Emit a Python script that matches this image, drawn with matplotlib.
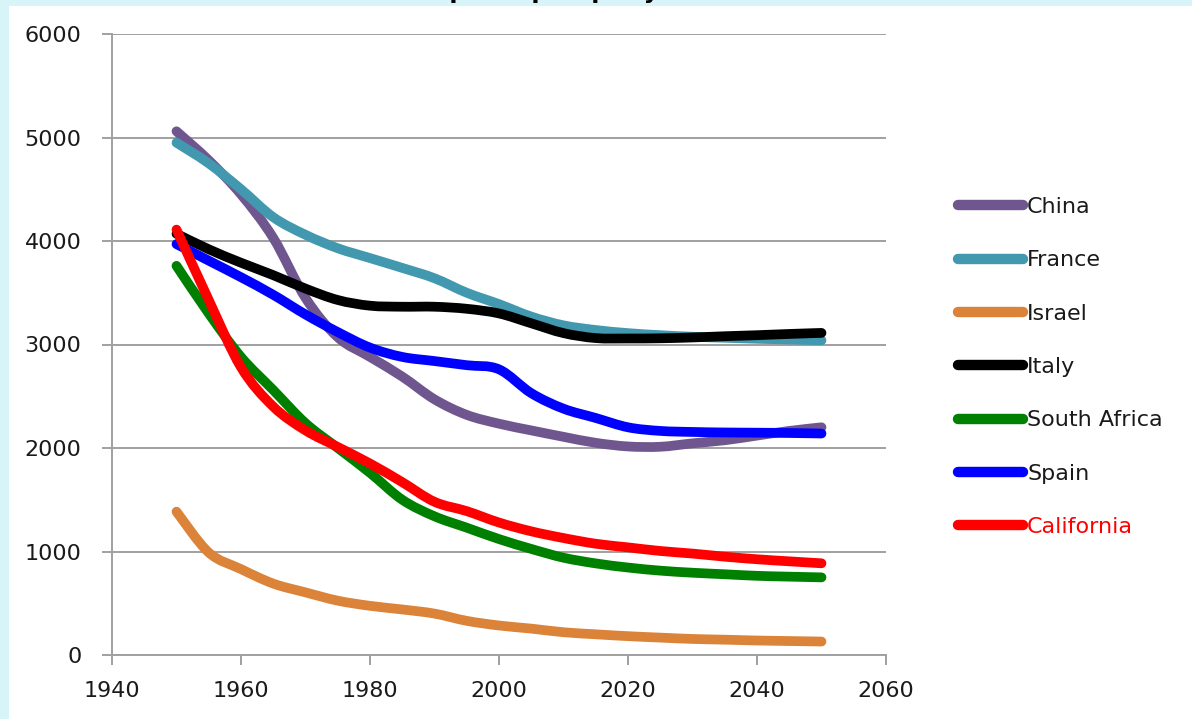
import matplotlib
matplotlib.use("Agg")
import matplotlib.pyplot as plt
import matplotlib.patches as mpatches
from matplotlib.path import Path
from matplotlib.lines import Line2D

# data (5-year steps)
years = [1950, 1955, 1960, 1965, 1970, 1975, 1980, 1985, 1990, 1995, 2000,
         2005, 2010, 2015, 2020, 2025, 2030, 2035, 2040, 2045, 2050]

china = [5060, 4780, 4450, 4030, 3450, 3070, 2880, 2690, 2470, 2320, 2235,
         2170, 2108, 2050, 2015, 2012, 2045, 2075, 2120, 2165, 2200]
france = [4950, 4750, 4500, 4230, 4060, 3930, 3835, 3740, 3640, 3500, 3390,
          3270, 3185, 3140, 3110, 3090, 3075, 3065, 3055, 3048, 3040]
israel = [1385, 990, 830, 690, 605, 525, 475, 440, 400, 330, 285,
          255, 220, 200, 182, 168, 155, 148, 140, 135, 130]
italy = [4070, 3920, 3790, 3670, 3540, 3430, 3375, 3365, 3365, 3345, 3300,
         3205, 3110, 3062, 3058, 3060, 3068, 3080, 3090, 3102, 3112]
south_africa = [3760, 3300, 2880, 2560, 2240, 2000, 1760, 1500, 1340, 1230, 1120,
                1025, 940, 885, 845, 815, 795, 780, 765, 757, 750]
spain = [3970, 3810, 3650, 3480, 3290, 3120, 2970, 2880, 2840, 2800, 2760,
         2530, 2380, 2290, 2200, 2165, 2155, 2150, 2148, 2145, 2140]
california = [4110, 3430, 2780, 2400, 2170, 2010, 1850, 1670, 1480, 1390, 1280,
              1195, 1130, 1075, 1040, 1005, 980, 950, 925, 905, 886]

names = ['China', 'France', 'Israel', 'Italy', 'South Africa', 'Spain', 'California']
series = [china, france, israel, italy, south_africa, spain, california]
colors = ['#70568F', '#4298AF', '#DB8338', '#000000', '#008000', '#0000FF', '#FF0000']

plt.rcParams['font.family'] = ['DejaVu Sans']


def smooth_path(xs, ys):
    # Excel-style smoothed line: Catmull-Rom segments as cubic Beziers
    pts = list(zip(xs, ys))
    n = len(pts)
    verts = [pts[0]]
    codes = [Path.MOVETO]
    for i in range(n - 1):
        p0 = pts[max(i - 1, 0)]
        p1 = pts[i]
        p2 = pts[i + 1]
        p3 = pts[min(i + 2, n - 1)]
        c1 = (p1[0] + (p2[0] - p0[0]) / 6, p1[1] + (p2[1] - p0[1]) / 6)
        c2 = (p2[0] - (p3[0] - p1[0]) / 6, p2[1] - (p3[1] - p1[1]) / 6)
        verts += [c1, c2, p2]
        codes += [Path.CURVE4] * 3
    return Path(verts, codes)


fig = plt.figure(figsize=(11.92, 7.19), dpi=100)
fig.patch.set_facecolor('#D7F5F8')
# white panel, cyan strip left & top
fig.patches.append(mpatches.Rectangle((8.5 / 1192, 0), 1, 1 - 6 / 719,
                                      transform=fig.transFigure,
                                      facecolor='white', edgecolor='none', zorder=-10))

# title, mostly cut off by the top edge (as in the original screenshot)
fig.text(362 / 1192, 1 + 2 / 719, 'Water per capita per year', ha='left',
         va='baseline', fontsize=16.8, fontweight='bold', color='black')

ax = fig.add_axes([112 / 1192, (719 - 655) / 719, (886 - 112) / 1192, (655 - 34) / 719])
ax.set_facecolor('none')

handles = []
for name, vals, c in zip(names, series, colors):
    pp = mpatches.PathPatch(smooth_path(years, vals), fill=False, edgecolor=c,
                            lw=7, capstyle='round', joinstyle='round',
                            clip_on=False)
    ax.add_patch(pp)
    handles.append(Line2D([], [], color=c, lw=7.5, solid_capstyle='round', label=name))

ax.set_xlim(1940, 2060)
ax.set_ylim(0, 6000)
ax.set_xticks(range(1940, 2061, 20))
ax.set_yticks(range(0, 6001, 1000))

gray = '#A0A0A0'
ax.yaxis.grid(True, color=gray, lw=1.4)
ax.set_axisbelow(True)
for s in ['top', 'right']:
    ax.spines[s].set_visible(False)
for s in ['left', 'bottom']:
    ax.spines[s].set_color(gray)
    ax.spines[s].set_linewidth(1.4)

ax.tick_params(axis='y', direction='out', length=7, width=1.4, color=gray,
               pad=15, labelsize=16, labelcolor='#1a1a1a')
ax.tick_params(axis='x', direction='out', length=7, width=1.4, color=gray,
               pad=12, labelsize=16, labelcolor='#1a1a1a')

leg = ax.legend(handles=handles, loc='upper left',
                bbox_to_anchor=(958 / 1192, 1 - 197 / 719),
                bbox_transform=fig.transFigure, frameon=False, fontsize=16,
                handlelength=2.93, handletextpad=0.18, labelspacing=1.5,
                borderpad=0, borderaxespad=0,
                labelcolor=['#1a1a1a'] * 6 + ['red'])

fig.savefig('out.png', dpi=100, facecolor=fig.get_facecolor())
